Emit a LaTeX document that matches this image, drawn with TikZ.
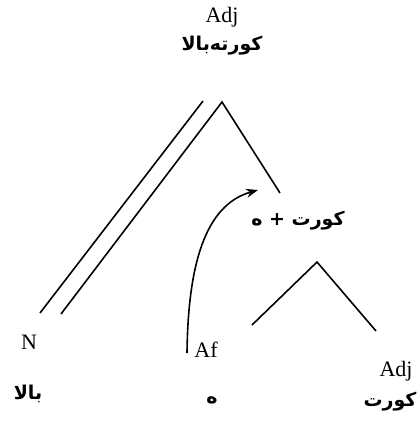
\documentclass[tikz,border=0pt]{standalone}
\usepackage{fontspec}
\setmainfont{Liberation Serif}
\newfontfamily\arabicfont[Script=Arabic]{DejaVu Sans}
\TeXXeTstate=1
\usetikzlibrary{arrows.meta}
\begin{document}
\begin{tikzpicture}[x=1pt,y=-1pt,
  cat/.style={inner sep=0pt,font=\fontsize{22}{24}\selectfont},
  fa/.style={inner sep=0pt,font=\arabicfont\bfseries\fontsize{19}{21}\selectfont},
  br/.style={line width=1.6pt}]
\useasboundingbox (0,0) rectangle (417,425);
% nodes
\node[cat] (adj1) at (222,17) {Adj};
\node[fa] (w1) at (222,46) {\beginR کورته‌بالا\endR};
\node[fa] (plus) at (298,221) {\beginR کورت + ه\endR};
\node[cat] (n) at (29,342) {N};
\node[fa] (w2) at (28,394) {\beginR بالا\endR};
\node[cat] (af) at (206,350) {Af};
\node[fa] (w3) at (212,400) {\beginR ه\endR};
\node[cat] (adj2) at (396,371) {Adj};
\node[fa] (w4) at (390,402) {\beginR کورت\endR};
% coordinates
\coordinate (ap1) at (222,102);
\coordinate (ap1b) at (203,101);
\coordinate (nl) at (40,313);
\coordinate (nr) at (61,314);
\coordinate (rr) at (280,193);
\coordinate (ap2) at (317,262);
\coordinate (l2) at (252,325);
\coordinate (r2) at (376,331);
\coordinate (as) at (187,353);
\coordinate (ae) at (258,190);
% branches
\draw[br] (ap1b) -- (nl);
\draw[br] (nr) -- (ap1) -- (rr);
\draw[br] (l2) -- (ap2) -- (r2);
\draw[br,-{Stealth[length=12pt,width=9pt]}] (as) .. controls (188,265) and (205,205) .. (ae);
\end{tikzpicture}
\end{document}
